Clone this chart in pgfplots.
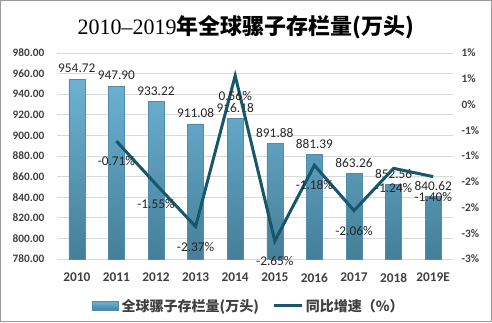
\documentclass[border=0pt]{standalone}
\usepackage{fontspec}
\setmainfont{Carlito}
\newfontfamily\cjk{Noto Sans CJK SC}
\newfontfamily\titleserif{Liberation Serif}
\usepackage{pgfplots}
\pgfplotsset{compat=1.18}
\definecolor{linec}{HTML}{17566B}
\definecolor{bartop}{HTML}{6DB2D3}
\definecolor{barbot}{HTML}{457F99}
\definecolor{barline}{HTML}{4F8DAB}
\definecolor{gridc}{HTML}{D9D9D9}
\definecolor{tickc}{HTML}{404040}
\begin{document}
\begin{tikzpicture}[x=0.75pt,y=0.75pt]
\useasboundingbox (0,0) rectangle (492,322);
\draw[gray!80, line width=0.75pt] (0.5,0.5) rectangle (491.5,321.5);
\node[font=\fontsize{16.5}{18}\selectfont] at (246,295) {{\titleserif 2010–2019}{\cjk\bfseries 年全球骡子存栏量(万头)}};
\begin{axis}[
  at={(42.75pt,47.25pt)}, anchor=south west, scale only axis,
  width=297pt, height=154.5pt,
  xmin=-0.5, xmax=9.5, ymin=780, ymax=980,
  xtick={0,...,9}, xticklabels={2010,2011,2012,2013,2014,2015,2016,2017,2018,2019E},
  ytick={780,800,...,980},
  y tick label style={/pgf/number format/fixed, /pgf/number format/fixed zerofill, /pgf/number format/precision=2, /pgf/number format/1000 sep={}, /pgf/number format/assume math mode=true,
    font=\fontsize{8.5}{10}\selectfont\bfseries, text=tickc, xshift=-6pt},
  ymajorgrids, grid style={gridc, line width=0.75pt},
  axis line style={draw=none}, major tick length=0pt,
  xticklabel style={font=\fontsize{10}{12}\selectfont\bfseries, text=tickc, yshift=-7pt},
  legend style={at={(0.485,-0.228)}, anchor=center, draw=none, legend columns=2,
    font=\fontsize{10.5}{12}\selectfont\cjk\bfseries, text=tickc,
    /tikz/every even column/.append style={column sep=8pt}},
]
\addplot[ybar, bar width=12pt, top color=bartop, bottom color=barbot, draw=barline,
  point meta=explicit symbolic, nodes near coords,
  every node near coord/.append style={font=\fontsize{10}{12}\selectfont, text=black!85, yshift=1pt},
  legend image code/.code={\draw[draw=barline, top color=bartop, bottom color=barbot] (0pt,-3.5pt) rectangle (20pt,3.5pt);}]
coordinates {
(0,954.72)[954.72]
(1,947.90)[947.90]
(2,933.22)[933.22]
(3,911.08)[911.08]
(4,916.18)[916.18]
(5,891.88)[891.88]
(6,881.39)[881.39]
(7,863.26)[863.26]
(8,852.56)[852.56]
(9,840.62)[840.62]
};
\addlegendentry{全球骡子存栏量(万头)}
\addlegendimage{legend image code/.code={\draw[linec, line width=2.25pt] (0pt,0pt) -- (21pt,0pt);}}
\addlegendentry{同比增速（\%）}
\end{axis}
\begin{axis}[
  at={(42.75pt,47.25pt)}, anchor=south west, scale only axis,
  width=297pt, height=154.5pt,
  xmin=-0.5, xmax=9.5, ymin=-3, ymax=1,
  axis y line*=right, hide x axis,
  ytick={-3,-2.5,...,1},
  yticklabels={-3\%,-3\%,-2\%,-2\%,-1\%,-1\%,0\%,1\%,1\%},
  axis line style={draw=none}, major tick length=0pt,
  yticklabel style={font=\fontsize{8.5}{10}\selectfont\bfseries, text=tickc, xshift=3pt},
  clip=false,
]
\addplot[linec, line width=2.25pt, line join=miter,
  point meta=explicit symbolic, nodes near coords,
  every node near coord/.append style={font=\fontsize{10}{12}\selectfont, text=black!85, anchor=center, yshift=-15pt}]
coordinates {
(1,-0.71)[-0.71\%]
(2,-1.55)[-1.55\%]
(3,-2.37)[-2.37\%]
(4,0.56)[0.56\%]
(5,-2.65)[-2.65\%]
(6,-1.18)[-1.18\%]
(7,-2.06)[-2.06\%]
(8,-1.24)[-1.24\%]
(9,-1.40)[-1.40\%]
};
\end{axis}
\end{tikzpicture}
\end{document}
